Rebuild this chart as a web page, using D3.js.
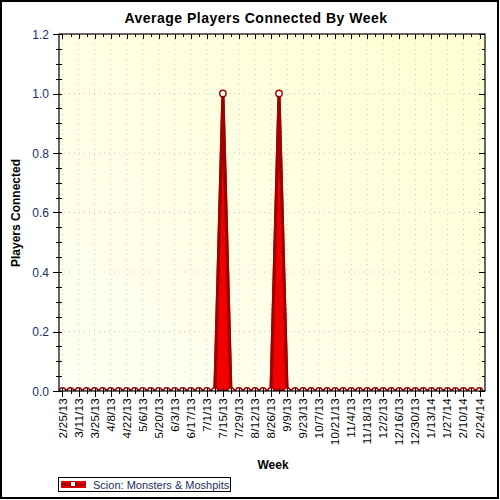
<!DOCTYPE html>
<html>
<head>
<meta charset="utf-8">
<script src="https://cdn.jsdelivr.net/npm/d3@7"></script>
<style>
  body { margin: 0; background: #fff; }
  svg { font-family: "Liberation Sans", Arial, sans-serif; }
</style>
</head>
<body>
<svg width="500" height="500"></svg>
<script>
// weekly buckets, 2/25/13 .. 2/24/14
var weeks = ["2/25/13","3/4/13","3/11/13","3/18/13","3/25/13","4/1/13","4/8/13","4/15/13","4/22/13","4/29/13",
  "5/6/13","5/13/13","5/20/13","5/27/13","6/3/13","6/10/13","6/17/13","6/24/13","7/1/13","7/8/13",
  "7/15/13","7/22/13","7/29/13","8/5/13","8/12/13","8/19/13","8/26/13","9/2/13","9/9/13","9/16/13",
  "9/23/13","9/30/13","10/7/13","10/14/13","10/21/13","10/28/13","11/4/13","11/11/13","11/18/13","11/25/13",
  "12/2/13","12/9/13","12/16/13","12/23/13","12/30/13","1/6/14","1/13/14","1/20/14","1/27/14","2/3/14",
  "2/10/14","2/17/14","2/24/14"];
var players = [0,0,0,0,0,0,0,0,0,0,
  0,0,0,0,0,0,0,0,0,0,
  1,0,0,0,0,0,0,1,0,0,
  0,0,0,0,0,0,0,0,0,0,
  0,0,0,0,0,0,0,0,0,0,
  0,0,0];
var yTicks = [0, 0.2, 0.4, 0.6, 0.8, 1.0, 1.2];
var seriesName = "Scion: Monsters & Moshpits";

var svg = d3.select("svg"),
    plot = {left: 59, top: 34, right: 485, bottom: 391};

var x = d3.scalePoint().domain(weeks).range([62.5, 479.5]),
    y = d3.scaleLinear().domain([0, 1.2]).range([plot.bottom, plot.top]);

var data = weeks.map(function(w, i) { return {week: w, value: players[i]}; });

// background + border
svg.append("rect").attr("x", 1).attr("y", 1).attr("width", 497).attr("height", 497)
  .attr("fill", "#fff").attr("stroke", "#000").attr("stroke-width", 2);

var defs = svg.append("defs");
var grad = defs.append("linearGradient").attr("id", "bg")
  .attr("x1", "0%").attr("y1", "100%").attr("x2", "100%").attr("y2", "0%");
grad.append("stop").attr("offset", "0%").attr("stop-color", "#fffff4");
grad.append("stop").attr("offset", "100%").attr("stop-color", "#ffffd2");
defs.append("clipPath").attr("id", "clip").append("rect")
  .attr("x", plot.left).attr("y", plot.top)
  .attr("width", plot.right - plot.left).attr("height", plot.bottom - plot.top);

svg.append("rect")
  .attr("x", plot.left).attr("y", plot.top)
  .attr("width", plot.right - plot.left).attr("height", plot.bottom - plot.top)
  .attr("fill", "url(#bg)");

// dotted grid
var majorWeeks = weeks.filter(function(d, i) { return i % 2 === 0; });
svg.append("g").selectAll("line").data(majorWeeks).enter().append("line")
  .attr("x1", function(d) { return x(d); }).attr("x2", function(d) { return x(d); })
  .attr("y1", plot.top).attr("y2", plot.bottom)
  .attr("stroke", "#c8c8c8").attr("stroke-dasharray", "1,4");
svg.append("g").selectAll("line").data(yTicks.slice(1, -1)).enter().append("line")
  .attr("x1", plot.left).attr("x2", plot.right)
  .attr("y1", function(d) { return y(d); }).attr("y2", function(d) { return y(d); })
  .attr("stroke", "#c8c8c8").attr("stroke-dasharray", "1,4");

// series
var g = svg.append("g").attr("clip-path", "url(#clip)");
var area = d3.area()
  .x(function(d) { return x(d.week); })
  .y0(y(0)).y1(function(d) { return y(d.value); });
var line = d3.line()
  .x(function(d) { return x(d.week); })
  .y(function(d) { return y(d.value); });

g.append("path").datum(data)
  .attr("fill", "#f20000").attr("stroke", "#b80000").attr("stroke-width", 3)
  .attr("stroke-linejoin", "miter").attr("d", area);
g.append("path").datum(data)
  .attr("fill", "none").attr("stroke", "#a00000").attr("stroke-width", 3)
  .attr("d", line);
g.selectAll("circle").data(data).enter().append("circle")
  .attr("cx", function(d) { return x(d.week); })
  .attr("cy", function(d) { return y(d.value); })
  .attr("r", 3.2)
  .attr("fill", "#fff").attr("stroke", "#a00000").attr("stroke-width", 1.4);

// frame
svg.append("rect")
  .attr("x", plot.left).attr("y", plot.top)
  .attr("width", plot.right - plot.left).attr("height", plot.bottom - plot.top)
  .attr("fill", "none").attr("stroke", "#000").attr("stroke-width", 1.2);

// y axis (left) and right ticks
var minorY = d3.range(0, 1.2001, 0.05);
svg.append("g").selectAll("line").data(minorY).enter().append("line")
  .attr("x1", function(d, i) { return i % 4 === 0 ? plot.left - 6 : plot.left - 3; })
  .attr("x2", plot.left + 3)
  .attr("y1", function(d) { return Math.round(y(d)) + 0.5; })
  .attr("y2", function(d) { return Math.round(y(d)) + 0.5; })
  .attr("stroke", "#000");
svg.append("g").selectAll("line").data(minorY).enter().append("line")
  .attr("x1", function(d, i) { return i % 4 === 0 ? plot.right - 6 : plot.right - 3; })
  .attr("x2", plot.right)
  .attr("y1", function(d) { return Math.round(y(d)) + 0.5; })
  .attr("y2", function(d) { return Math.round(y(d)) + 0.5; })
  .attr("stroke", "#000");
svg.append("g").selectAll("text").data(yTicks).enter().append("text")
  .attr("x", plot.left - 10)
  .attr("y", function(d) { return y(d) + 4.5; })
  .attr("text-anchor", "end").attr("font-size", 12).attr("fill", "#1a2f6a")
  .text(d3.format(".1f"));

// x axis ticks (bottom and top)
svg.append("g").selectAll("line").data(weeks).enter().append("line")
  .attr("x1", function(d) { return Math.round(x(d)) + 0.5; })
  .attr("x2", function(d) { return Math.round(x(d)) + 0.5; })
  .attr("y1", plot.bottom - 3)
  .attr("y2", function(d, i) { return i % 2 === 0 ? plot.bottom + 6 : plot.bottom + 3; })
  .attr("stroke", "#000");
svg.append("g").selectAll("line").data(weeks).enter().append("line")
  .attr("x1", function(d) { return Math.round(x(d)) + 0.5; })
  .attr("x2", function(d) { return Math.round(x(d)) + 0.5; })
  .attr("y1", plot.top)
  .attr("y2", function(d, i) { return i % 2 === 0 ? plot.top + 5 : plot.top + 3; })
  .attr("stroke", "#000");
svg.append("g").selectAll("text").data(majorWeeks).enter().append("text")
  .attr("transform", function(d) { return "translate(" + (x(d) + 4) + "," + (plot.bottom + 7) + ") rotate(-90)"; })
  .attr("text-anchor", "end").attr("font-size", 11.5).attr("fill", "#000")
  .attr("letter-spacing", 0.3)
  .text(function(d) { return d; });

// titles
svg.append("text").attr("x", 256).attr("y", 23)
  .attr("text-anchor", "middle").attr("font-size", 14).attr("font-weight", "bold")
  .attr("letter-spacing", 0.5)
  .text("Average Players Connected By Week");
svg.append("text").attr("x", 273).attr("y", 469)
  .attr("text-anchor", "middle").attr("font-size", 12).attr("font-weight", "bold")
  .text("Week");
svg.append("text").attr("transform", "translate(20,213) rotate(-90)")
  .attr("text-anchor", "middle").attr("font-size", 12).attr("font-weight", "bold")
  .text("Players Connected");

// legend
var legend = svg.append("g");
legend.append("rect").attr("x", 58.5).attr("y", 477.5).attr("width", 172).attr("height", 14)
  .attr("fill", "#fff").attr("stroke", "#000");
legend.append("rect").attr("x", 61).attr("y", 481).attr("width", 25).attr("height", 7).attr("fill", "#e00000");
legend.append("line").attr("x1", 61).attr("x2", 86).attr("y1", 484.5).attr("y2", 484.5)
  .attr("stroke", "#a00000").attr("stroke-width", 2);
legend.append("rect").attr("x", 70.5).attr("y", 481.5).attr("width", 5).attr("height", 5)
  .attr("fill", "#fff").attr("stroke", "#a00000");
legend.append("text").attr("x", 93).attr("y", 488.5).attr("font-size", 11).attr("fill", "#1a2f5a")
  .text(seriesName);
</script>
</body>
</html>
